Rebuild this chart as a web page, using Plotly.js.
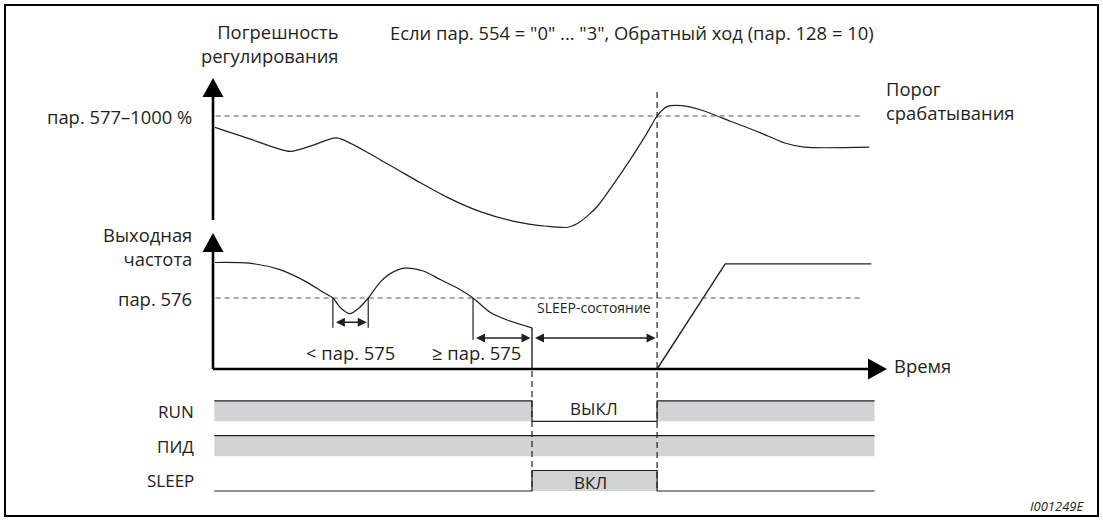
<!DOCTYPE html>
<html>
<head>
<meta charset="utf-8">
<script src="https://cdn.plot.ly/plotly-3.0.1.min.js"></script>
<style>html,body{margin:0;padding:0;background:#fff;}#chart{width:1103px;height:522px;}</style>
</head>
<body>
<div id="chart"></div>
<script>
// ---------------- DATA (arbitrary units) ----------------
// Control deviation (Погрешность регулирования)
const errTime  = [0.3, 5.6, 11.8, 15.3, 18.9, 25.5, 31.6, 35.7, 40.8, 45.8, 51.0, 54.2, 56.0, 58.6, 61.1, 63.7, 66.3, 67.8, 69.3, 71.6, 74.4, 79.0, 83.5, 87.3, 90.3, 100.2];
const errValue = [89, 78, 66, 72, 79, 58, 36, 22, 8, -1, -6, -7, -2, 12.5, 34, 58, 84, 100, 109, 110, 106, 95, 84, 74, 70, 70];
const errThreshold = 100;   // пар. 577–1000 %

// Output frequency (Выходная частота) before SLEEP
const freqTime  = [0.3, 5.6, 10.2, 14.4, 16.8, 18.3, 19.5, 20.9, 22.3, 23.7, 25.5, 27.0, 29.3, 32.1, 34.7, 37.3, 39.7, 42.3, 44.9, 48.7];
const freqValue = [75, 74.5, 70, 61, 54, 50, 43, 39, 43, 50, 61, 67, 71, 69, 63, 57, 50, 40, 34.5, 29];
// Output frequency during SLEEP and restart
const freq2Time  = [48.7, 48.7, 67.8, 78.2, 100.5];
const freq2Value = [29, 0, 0, 74, 74];
const freqThreshold = 50;   // пар. 576

// Events
const tShortStart = 18.3, tShortEnd = 23.7;  // < пар. 575
const tLongStart = 39.7;                     // ≥ пар. 575
const tSleep = 48.7, tWake = 67.8;

// Digital signals (step values at sigTime)
const sigTime  = [0.2, 48.7, 67.8, 101];
const sigRUN   = [1, 0, 1, 1];
const sigPID   = [1, 1, 1, 1];
const sigSLEEP = [0, 1, 0, 0];
const sigLabels = ['RUN', 'ПИД', 'SLEEP'];

// ---------------- LAYOUT GEOMETRY ----------------
const W = 1103, H = 522;
const X0PX = 213, XS = 6.55;          // time 0 at px 213, 6.55 px per unit
const E0PX = 220, ES = 1.04;          // error 0 at px 220
const F0PX = 369, FS = 1.42;          // frequency 0 at px 369
const S0PX = 491, SS = 20.5;          // signal rows
const rowBase = {RUN: 3.4, 'ПИД': 1.7, SLEEP: 0};

const ink = '#231f20';
const FONT = 'Open Sans, Noto Sans, sans-serif';
const FS_MAIN = 18.4, FS_SIG = 17;
const px = (x) => x / W;
const py = (y) => 1 - y / H;

const traces = [];
traces.push({x: errTime, y: errValue, type: 'scatter', mode: 'lines', yaxis: 'y',
  line: {color: ink, width: 1.2, shape: 'spline', smoothing: 0.7}, hoverinfo: 'skip'});
traces.push({x: freqTime, y: freqValue, type: 'scatter', mode: 'lines', yaxis: 'y2',
  line: {color: ink, width: 1.2, shape: 'spline', smoothing: 0.8}, hoverinfo: 'skip'});
traces.push({x: freq2Time, y: freq2Value, type: 'scatter', mode: 'lines', yaxis: 'y2',
  line: {color: ink, width: 1.4}, hoverinfo: 'skip'});

const sigs = {RUN: sigRUN, 'ПИД': sigPID, SLEEP: sigSLEEP};
sigLabels.forEach(name => {
  const base = rowBase[name];
  traces.push({x: sigTime, y: sigTime.map(() => base), type: 'scatter', mode: 'lines', yaxis: 'y3',
    line: {width: 0, color: 'rgba(0,0,0,0)'}, hoverinfo: 'skip'});
  traces.push({x: sigTime, y: sigs[name].map(v => base + v), type: 'scatter', mode: 'lines', yaxis: 'y3',
    line: {color: ink, width: 1.2, shape: 'hv'}, fill: 'tonexty', fillcolor: '#d1d3d4', hoverinfo: 'skip'});
});

const shapes = [];
// frame
shapes.push({type: 'rect', xref: 'paper', yref: 'paper', x0: px(5), x1: px(1098), y0: py(516), y1: py(5),
  line: {color: '#000', width: 2}});
// axes
const axW = 2.6;
shapes.push({type: 'line', xref: 'x', yref: 'paper', x0: 0, x1: 0, y0: py(E0PX), y1: py(95), line: {color: '#000', width: axW}});
shapes.push({type: 'line', xref: 'x', yref: 'paper', x0: 0, x1: 0, y0: py(F0PX), y1: py(250), line: {color: '#000', width: axW}});
shapes.push({type: 'line', xref: 'x', yref: 'y2', x0: 0, x1: (869 - X0PX) / XS, y0: 0, y1: 0, line: {color: '#000', width: axW}});
// arrowheads
const tri = (pts) => 'M' + pts.map(p => px(p[0]) + ',' + py(p[1])).join(' L') + ' Z';
shapes.push({type: 'path', xref: 'paper', yref: 'paper', path: tri([[213, 78], [202.5, 97], [223.5, 97]]), fillcolor: '#000', line: {width: 0}});
shapes.push({type: 'path', xref: 'paper', yref: 'paper', path: tri([[213, 233], [202.5, 252], [223.5, 252]]), fillcolor: '#000', line: {width: 0}});
shapes.push({type: 'path', xref: 'paper', yref: 'paper', path: tri([[887, 369], [868, 358.5], [868, 379.5]]), fillcolor: '#000', line: {width: 0}});
// threshold dashed lines
const tEndDash = (863 - X0PX) / XS;
shapes.push({type: 'line', xref: 'x', yref: 'y', x0: 0.4, x1: tEndDash, y0: errThreshold, y1: errThreshold,
  line: {color: '#555', width: 1.2, dash: '5px,4px'}});
shapes.push({type: 'line', xref: 'x', yref: 'y2', x0: 0.4, x1: tEndDash, y0: freqThreshold, y1: freqThreshold,
  line: {color: '#555', width: 1.2, dash: '5px,4px'}});
// event dashed verticals
shapes.push({type: 'line', xref: 'x', yref: 'paper', x0: tWake, x1: tWake, y0: py(92), y1: py(491),
  line: {color: ink, width: 1.2, dash: '6px,4px'}});
shapes.push({type: 'line', xref: 'x', yref: 'paper', x0: tSleep, x1: tSleep, y0: py(371), y1: py(491),
  line: {color: ink, width: 1.2, dash: '6px,4px'}});
// interval marker lines
shapes.push({type: 'line', xref: 'x', yref: 'y2', x0: tShortStart, x1: tShortStart, y0: freqThreshold, y1: 29, line: {color: ink, width: 1.2}});
shapes.push({type: 'line', xref: 'x', yref: 'y2', x0: tShortEnd, x1: tShortEnd, y0: freqThreshold, y1: 29, line: {color: ink, width: 1.2}});
shapes.push({type: 'line', xref: 'x', yref: 'y2', x0: tLongStart, x1: tLongStart, y0: freqThreshold, y1: 20.4, line: {color: ink, width: 1.2}});

const annotations = [];
const txt = (text, x, y, xanchor, size, extra) => Object.assign({text: text, xref: 'paper', yref: 'paper',
  x: px(x), y: py(y), xanchor: xanchor, yanchor: 'middle', showarrow: false,
  font: {family: FONT, size: size, color: ink}}, extra || {});
annotations.push(txt('Если пар. 554 = "0" ... "3", Обратный ход (пар. 128 = 10)', 388, 33, 'left', FS_MAIN));
annotations.push(txt('Погрешность<br>регулирования', 341, 43, 'right', FS_MAIN, {align: 'right'}));
annotations.push(txt('пар. 577–1000 %', 194, 116, 'right', FS_MAIN));
annotations.push(txt('Порог<br>срабатывания', 884, 101, 'left', FS_MAIN, {align: 'left'}));
annotations.push(txt('Выходная<br>частота', 194, 246, 'right', FS_MAIN, {align: 'right'}));
annotations.push(txt('пар. 576', 194, 298, 'right', FS_MAIN));
annotations.push(txt('< пар. 575', 350, 352, 'center', FS_MAIN));
annotations.push(txt('≥ пар. 575', 476, 352, 'center', FS_MAIN));
annotations.push(txt('SLEEP-состояние', 594, 307, 'center', 14));
annotations.push(txt('Время', 892, 365, 'left', FS_MAIN));
annotations.push(txt('RUN', 196, 411, 'right', FS_SIG));
annotations.push(txt('ПИД', 196, 446, 'right', FS_SIG));
annotations.push(txt('SLEEP', 196, 480, 'right', FS_SIG));
annotations.push(txt('ВЫКЛ', 594, 408, 'center', FS_SIG));
annotations.push(txt('ВКЛ', 590, 482, 'center', FS_SIG));
annotations.push(txt('<i>I001249E</i>', 1086, 506, 'right', 13));
// double arrows
const dbl = (x0, x1, y) => ({x: x1, y: y, ax: x0, ay: y, xref: 'x', yref: 'y2', axref: 'x', ayref: 'y2',
  text: '', showarrow: true, arrowside: 'end+start', arrowhead: 2, startarrowhead: 2,
  arrowsize: 1.2, startarrowsize: 1.2, arrowwidth: 1.5, arrowcolor: ink, standoff: 1.5, startstandoff: 1.5});
annotations.push(dbl(tShortStart, tShortEnd, 33));
annotations.push(dbl(tLongStart, tSleep, 21.8));
annotations.push(dbl(tSleep, tWake, 21.8));

const ax = (r) => ({range: r, visible: false, fixedrange: true, showgrid: false, zeroline: false});
const layout = {
  width: W, height: H, margin: {l: 0, r: 0, t: 0, b: 0, pad: 0},
  paper_bgcolor: '#fff', plot_bgcolor: '#fff', showlegend: false,
  xaxis: Object.assign(ax([-X0PX / XS, (W - X0PX) / XS]), {domain: [0, 1]}),
  yaxis: Object.assign(ax([(E0PX - H) / ES, E0PX / ES]), {domain: [0, 1]}),
  yaxis2: Object.assign(ax([(F0PX - H) / FS, F0PX / FS]), {overlaying: 'y'}),
  yaxis3: Object.assign(ax([(S0PX - H) / SS, S0PX / SS]), {overlaying: 'y'}),
  shapes: shapes, annotations: annotations
};
Plotly.newPlot('chart', traces, layout, {staticPlot: true, displayModeBar: false});
</script>
</body>
</html>
